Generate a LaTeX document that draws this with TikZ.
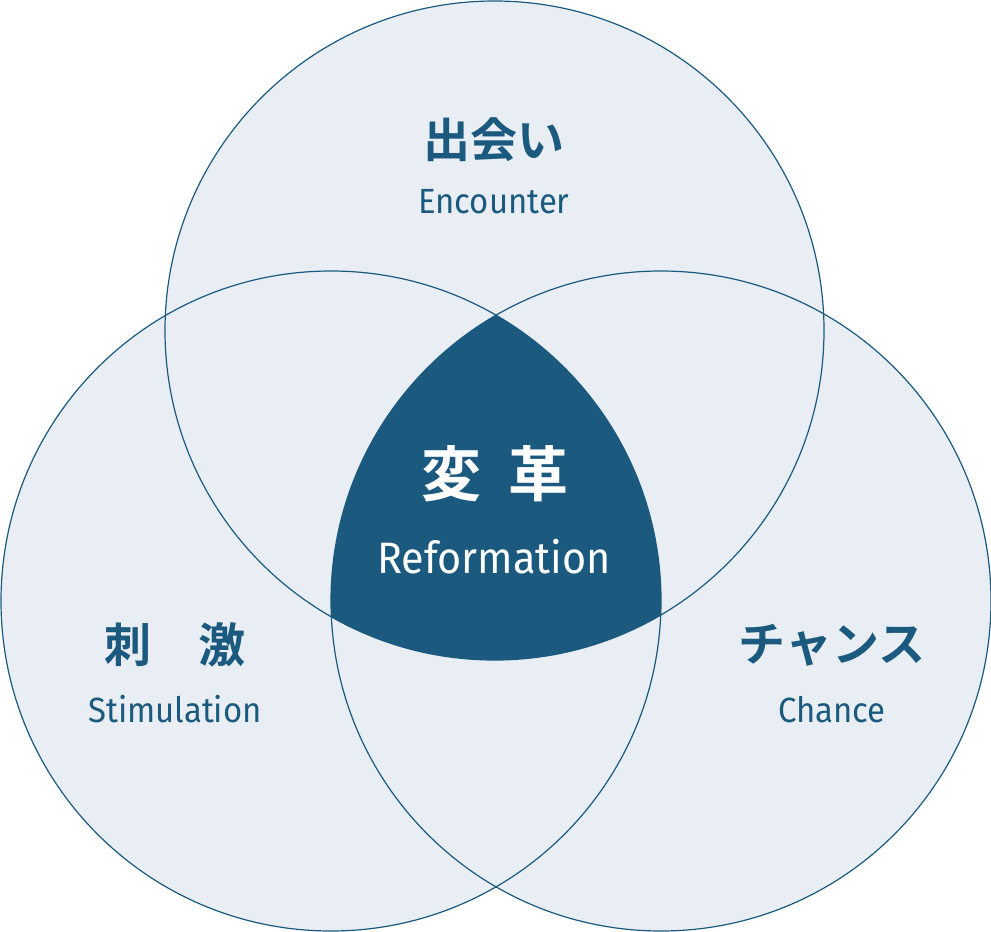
\documentclass[tikz,border=0pt]{standalone}
\usepackage{fontspec}
\newfontfamily\jpfont{Noto Sans CJK JP}[BoldFont={Noto Sans CJK JP Bold}]
\newfontfamily\enfont{Fira Sans}[FakeStretch=0.94]
\definecolor{deepblue}{HTML}{1B5A7E}
\definecolor{paleblue}{HTML}{E8EEF3}

\begin{document}
\begin{tikzpicture}[x=1pt, y=-1pt]
    \tikzset{ring/.style = {draw=deepblue, line width=1.2pt}}
    \tikzset{jp/.style = {font=\jpfont\bfseries\fontsize{47}{50}\selectfont, text=deepblue, inner sep=0pt}}
    \tikzset{en/.style = {font=\enfont\fontsize{35}{40}\selectfont, text=deepblue, inner sep=0pt, anchor=base}}
    \useasboundingbox (0,0) rectangle (991,932);

    % centres
    \coordinate (top) at (494.5,330.5);
    \coordinate (left) at (331,601);
    \coordinate (right) at (661,601);

    % circles
    \fill[paleblue] (top) circle [radius=329.5];
    \fill[paleblue] (left) circle [radius=330];
    \fill[paleblue] (right) circle [radius=330];
    \begin{scope}
      \clip (top) circle [radius=329.5];
      \clip (left) circle [radius=330];
      \fill[deepblue] (right) circle [radius=330];
    \end{scope}
    \draw[ring] (top) circle [radius=329.5];
    \draw[ring] (left) circle [radius=330];
    \draw[ring] (right) circle [radius=330];

    % texts
    \node[jp] (meet) at (494,140) {出会い};
    \node[en] (encounter) at (494,213) {Encounter};
    \node[jp, text=white, font=\jpfont\bfseries\fontsize{60}{64}\selectfont] (change) at (495,474) {変\hspace{0.45em}革};
    \node[en, text=white, font=\enfont\fontsize{44}{48}\selectfont] (reform) at (494,573) {Reformation};
    \node[jp] (stim) at (175,645) {刺　激};
    \node[en] (stimulation) at (175,722) {Stimulation};
    \node[jp] (chance) at (832,645) {チャンス};
    \node[en] (chancetext) at (832,722) {Chance};
\end{tikzpicture}
\end{document}
